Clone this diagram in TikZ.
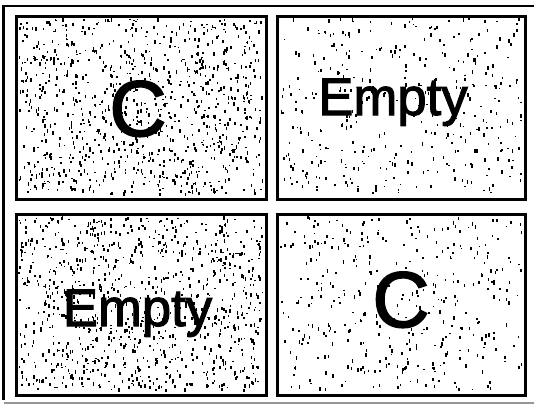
\documentclass[tikz,border=0pt]{standalone}
\usepackage{fontspec}
\setmainfont{Liberation Sans}
\newfontfamily\scanfont[FakeBold=2]{Liberation Sans}
\usepackage{tikz}
\definecolor{framegrey}{RGB}{150,150,150}

\begin{document}
\begin{tikzpicture}[
  x=0.02cm, y=-0.02cm,
  panelbox/.style={draw, line width=2pt},
  bigletter/.style={inner sep=0, anchor=base, font=\scanfont\fontsize{45}{45}\selectfont},
  bigword/.style={inner sep=0, anchor=base, font=\scanfont\fontsize{30}{30}\selectfont}
]
\useasboundingbox (0,0) rectangle (534,406);
\pgfmathsetseed{4711}

% speckle of the scan, dense on the left, sparse on the right
\foreach \xa/\ya/\xb/\yb/\n in {18/18/264/197/950, 279/18/523/197/380, 18/216/264/393/950, 279/216/523/393/380}{
  \foreach \k in {1,...,\n}{
    \pgfmathsetmacro\px{\xa+rnd*(\xb-\xa-2)}
    \pgfmathsetmacro\py{\ya+rnd*(\yb-\ya-4)}
    \pgfmathsetmacro\ph{1+rnd*3}
    \fill (\px,\py) rectangle ++(1.6,\ph);
  }
}

% frame
\draw[line width=1.2pt] (534,6) -- (3.5,6) -- (3.5,400);
\draw[framegrey, line width=0.8pt] (3.5,403) -- (534,403);

% panels
\draw[panelbox] (16.5,16.5) rectangle (266.5,199.5);
\draw[panelbox] (277.5,16.5) rectangle (525.5,199.5);
\draw[panelbox] (16.5,214.5) rectangle (266.5,395.5);
\draw[panelbox] (277.5,214.5) rectangle (525.5,395.5);

\node[bigletter] (topleft) at (138,136) {C};
\node[bigword] (topright) at (393,115) {Empty};
\node[bigword] (bottomleft) at (137.5,326) {Empty};
\node[bigletter] (bottomright) at (401,327) {C};
\end{tikzpicture}
\end{document}
